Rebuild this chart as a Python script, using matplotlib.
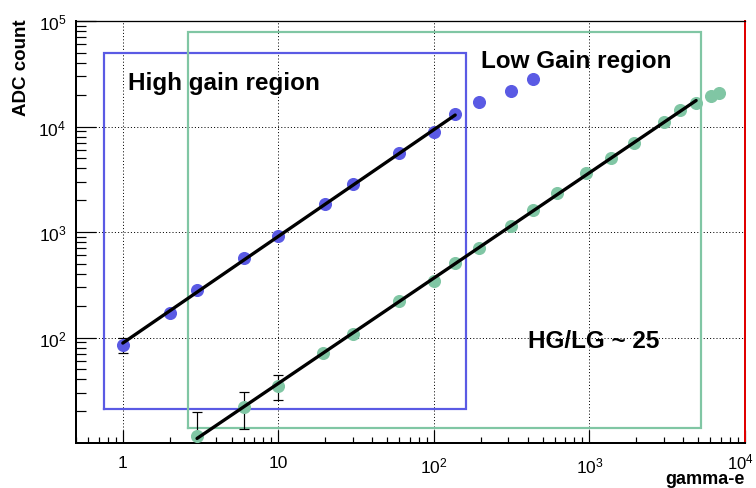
import numpy as np
import matplotlib
matplotlib.use("Agg")
import matplotlib.pyplot as plt
import matplotlib.transforms as mtransforms
from matplotlib.ticker import LogLocator, FixedLocator, FixedFormatter, NullFormatter

# ---------------- data ----------------
hg_x = [1, 2, 3, 6, 10, 20, 30, 60, 100, 137, 195, 312, 431]
hg_y = [85, 171, 283, 569, 920, 1830, 2830, 5570, 8810, 13000, 16900, 21500, 27900]
hg_err = [13, 0, 0, 0, 0, 0, 0, 0, 0, 0, 0, 0, 0]

lg_x = [3, 6, 10, 19.5, 30, 60, 100, 137, 195, 312, 431, 614, 957, 1384, 1942,
        3025, 3830, 4850, 6050, 6810]
lg_y = [11.7, 22, 34.8, 71.7, 108, 223, 344, 510, 708, 1132, 1607, 2320, 3590,
        4980, 7050, 11150, 14180, 16880, 19660, 21000]
lg_err = [8, 8.5, 9, 0, 0, 0, 0, 0, 0, 0, 0, 0, 0, 0, 0, 0, 0, 0, 0, 0]

hg_fit_range = [1, 137]
lg_fit_range = [3, 4850]

# boxes: x0, x1, y0, y1 (data coordinates)
hg_box = [0.755, 160, 21.1, 49200]
lg_box = [2.62, 5200, 13.8, 78300]

x_ticks = [1, 10, 100, 1000, 10000]
x_ticklabels = ["1", "10", "$10^{2}$", "$10^{3}$", "$10^{4}$"]
y_ticks = [100, 1000, 10000, 100000]
y_ticklabels = ["$10^{2}$", "$10^{3}$", "$10^{4}$", "$10^{5}$"]

# ---------------- style ----------------
plt.rcParams["font.family"] = ["Liberation Sans", "DejaVu Sans"]
plt.rcParams["mathtext.fontset"] = "custom"
plt.rcParams["mathtext.rm"] = "Liberation Sans"
plt.rcParams["mathtext.it"] = "Liberation Sans"
plt.rcParams["mathtext.bf"] = "Liberation Sans:bold"
plt.rcParams["mathtext.default"] = "rm"

BLUE = "#5a5ae4"
GREEN = "#80c6a4"
PX = 0.72  # one pixel in points at dpi 100

fig = plt.figure(figsize=(7.56, 4.89), dpi=100)
ax = fig.add_axes([76/756, 45/489, 669/756, 422/489])
ax.set_xscale("log")
ax.set_yscale("log")
ax.set_xlim(0.5, 1e4)
ax.set_ylim(10, 1e5)

# grid
for xv in x_ticks[:-1]:
    ax.axvline(xv, color="black", lw=PX, ls=(0, (1, 2.2)), zorder=0.5)
for yv in y_ticks[:-1]:
    ax.axhline(yv, color="black", lw=PX, ls=(0, (1, 2.2)), zorder=0.5)

# boxes
def draw_box(b, color):
    x0, x1, y0, y1 = b
    ax.plot([x0, x1, x1, x0, x0], [y0, y0, y1, y1, y0], color=color,
            lw=2.2*PX, zorder=1, solid_joinstyle="miter")

draw_box(hg_box, BLUE)
draw_box(lg_box, GREEN)

# points with errors
ax.errorbar(hg_x, hg_y, yerr=hg_err, fmt="o", color=BLUE, ms=8.4,
            ecolor="black", elinewidth=PX*1.2, capsize=3.5, capthick=PX*1.2,
            zorder=3, mec=BLUE)
ax.errorbar(lg_x, lg_y, yerr=lg_err, fmt="o", color=GREEN, ms=8.4,
            ecolor="black", elinewidth=PX*1.2, capsize=3.5, capthick=PX*1.2,
            zorder=3, mec=GREEN)

# power-law fits computed from the points
def fit_line(xs, ys, rng):
    xs = np.asarray(xs, float); ys = np.asarray(ys, float)
    m = (xs >= rng[0]) & (xs <= rng[1])
    b, a = np.polyfit(np.log10(xs[m]), np.log10(ys[m]), 1)
    xx = np.array(rng, float)
    return xx, 10 ** (a + b * np.log10(xx))

fx, fy = fit_line(hg_x, hg_y, hg_fit_range)
ax.plot(fx, fy, color="black", lw=3.3*PX, zorder=4, solid_capstyle="round")
fx, fy = fit_line(lg_x, lg_y, lg_fit_range)
ax.plot(fx, fy, color="black", lw=3.3*PX, zorder=4, solid_capstyle="round")

# ticks
ax.xaxis.set_major_locator(FixedLocator(x_ticks))
ax.xaxis.set_major_formatter(FixedFormatter(x_ticklabels[:-1] + [""]))
ax.yaxis.set_major_locator(FixedLocator(y_ticks))
ax.yaxis.set_major_formatter(FixedFormatter(y_ticklabels))
ax.xaxis.set_minor_locator(LogLocator(base=10, subs=np.arange(2, 10), numticks=100))
ax.yaxis.set_minor_locator(LogLocator(base=10, subs=np.arange(2, 10), numticks=100))
ax.xaxis.set_minor_formatter(NullFormatter())
ax.yaxis.set_minor_formatter(NullFormatter())
ax.tick_params(axis="x", which="major", direction="in", length=13*PX, width=PX*1.2,
               labelsize=12.5, pad=9, top=False)
ax.tick_params(axis="x", which="minor", direction="in", length=6.5*PX, width=PX*1.2, top=False)
ax.tick_params(axis="y", which="major", direction="in", length=20*PX, width=PX*1.2,
               labelsize=12.5, pad=7, right=False)
ax.tick_params(axis="y", which="minor", direction="in", length=10*PX, width=PX*1.2, right=False)

# last x label drawn separately, nudged left so it stays inside the canvas
last_tr = mtransforms.blended_transform_factory(ax.transData, ax.transAxes) + \
    mtransforms.ScaledTranslation(-5/100, -6/72, fig.dpi_scale_trans)
ax.text(x_ticks[-1], 0, x_ticklabels[-1], transform=last_tr, ha="center", va="top",
        fontsize=12, clip_on=False)

for s in ["left", "bottom"]:
    ax.spines[s].set_linewidth(2*PX)
ax.spines["top"].set_linewidth(1.3*PX)
ax.spines["right"].set_color("#e00000")
ax.spines["right"].set_linewidth(2*PX)

# labels
fig.text(22/756, 1 - 19/489, "ADC count", rotation=90, ha="center", va="top",
         fontsize=13.5, fontweight="bold")
fig.text(745/756, 1 - 488/489, "gamma-e", ha="right", va="bottom",
         fontsize=13, fontweight="bold")

ax.text((128-76)/669, (444-90)/422, "High gain region", transform=ax.transAxes,
        ha="left", va="baseline", fontsize=17.5, fontweight="bold")
ax.text((481-76)/669, (444-68)/422, "Low Gain region", transform=ax.transAxes,
        ha="left", va="baseline", fontsize=17.5, fontweight="bold")
ax.text((528-76)/669, (444-348)/422, "HG/LG ~ 25", transform=ax.transAxes,
        ha="left", va="baseline", fontsize=17.5, fontweight="bold")

fig.savefig("out.png", dpi=100)
